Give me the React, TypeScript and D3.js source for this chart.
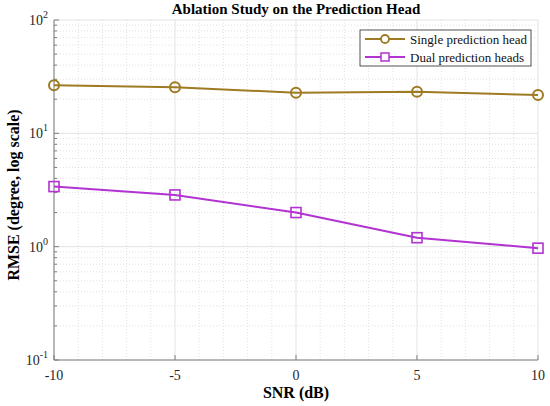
import * as d3 from 'd3';
import { useEffect, useRef } from 'react';

const snr = [-10, -5, 0, 5, 10];
const singleHead = [26.5, 25.5, 22.8, 23.3, 21.8];
const dualHeads = [3.39, 2.86, 2.0, 1.2, 0.97];
const xTicks = [-10, -5, 0, 5, 10];
const yExponents = [-1, 0, 1, 2];

const W = 550;
const H = 406;
const FONT = '"Liberation Serif", "Times New Roman", serif';
const GOLD = '#9e7b22';
const PURPLE = '#b232d2';

const App = () => {
    const ref = useRef<SVGSVGElement>(null);

    useEffect(() => {
        const margin = { top: 20, right: 12, bottom: 46, left: 54 };
        const width = W - margin.left - margin.right;
        const height = H - margin.top - margin.bottom;

        const root = d3.select(ref.current);
        root.selectAll("*").remove();

        const svg = root.append("g")
            .attr("transform", `translate(${margin.left},${margin.top})`);

        const x = d3.scaleLinear().domain([-10, 10]).range([0, width]);
        const y = d3.scaleLog().domain([0.1, 100]).range([height, 0]);

        // minor grid (dotted)
        const minorX = d3.range(-10, 11, 1).filter(v => v % 5 !== 0);
        const minorY: number[] = [];
        [-1, 0, 1].forEach(e => { for (let k = 2; k <= 9; k++) minorY.push(k * Math.pow(10, e)); });

        svg.append("g").selectAll("line").data(minorX).join("line")
            .attr("x1", d => x(d)).attr("x2", d => x(d))
            .attr("y1", 0).attr("y2", height)
            .attr("stroke", "#d9d9d9").attr("stroke-width", 0.8)
            .attr("stroke-dasharray", "1,2");
        svg.append("g").selectAll("line").data(minorY).join("line")
            .attr("x1", 0).attr("x2", width)
            .attr("y1", d => y(d)).attr("y2", d => y(d))
            .attr("stroke", "#d9d9d9").attr("stroke-width", 0.8)
            .attr("stroke-dasharray", "1,2");

        // major grid
        svg.append("g").selectAll("line").data(xTicks).join("line")
            .attr("x1", d => x(d)).attr("x2", d => x(d))
            .attr("y1", 0).attr("y2", height)
            .attr("stroke", "#e3e3e3").attr("stroke-width", 1);
        svg.append("g").selectAll("line").data(yExponents).join("line")
            .attr("x1", 0).attr("x2", width)
            .attr("y1", d => y(Math.pow(10, d))).attr("y2", d => y(Math.pow(10, d)))
            .attr("stroke", "#e3e3e3").attr("stroke-width", 1);

        // axes
        const axisColor = "#7f7f7f";
        svg.append("line").attr("x1", 0).attr("x2", width).attr("y1", height).attr("y2", height)
            .attr("stroke", axisColor).attr("stroke-width", 1);
        svg.append("line").attr("x1", 0).attr("x2", 0).attr("y1", 0).attr("y2", height)
            .attr("stroke", axisColor).attr("stroke-width", 1);

        // x ticks
        svg.append("g").selectAll("line").data(xTicks).join("line")
            .attr("x1", d => x(d)).attr("x2", d => x(d))
            .attr("y1", height).attr("y2", height - 5)
            .attr("stroke", axisColor);
        svg.append("g").selectAll("text").data(xTicks).join("text")
            .attr("x", d => x(d)).attr("y", height + 20)
            .attr("text-anchor", "middle")
            .style("font-family", FONT).style("font-size", "14px").attr("fill", "#262626")
            .text(d => d);

        // y ticks
        svg.append("g").selectAll("line").data(yExponents).join("line")
            .attr("x1", 0).attr("x2", 5)
            .attr("y1", d => y(Math.pow(10, d))).attr("y2", d => y(Math.pow(10, d)))
            .attr("stroke", axisColor);
        svg.append("g").selectAll("line").data(minorY).join("line")
            .attr("x1", 0).attr("x2", 3)
            .attr("y1", d => y(d)).attr("y2", d => y(d))
            .attr("stroke", axisColor);
        const yLab = svg.append("g").selectAll("text").data(yExponents).join("text")
            .attr("x", -6).attr("y", d => y(Math.pow(10, d)) + 5)
            .attr("text-anchor", "end")
            .style("font-family", FONT).style("font-size", "14px").attr("fill", "#262626");
        yLab.append("tspan").text("10");
        yLab.append("tspan").attr("dy", -7).style("font-size", "10px").text(d => d);

        // lines
        const series = [
            { name: "Single prediction head", values: singleHead, color: GOLD, marker: "circle" },
            { name: "Dual prediction heads", values: dualHeads, color: PURPLE, marker: "square" },
        ];
        const line = d3.line<number>().x((_, i) => x(snr[i])).y(d => y(d));

        series.forEach(s => {
            svg.append("path").datum(s.values)
                .attr("fill", "none").attr("stroke", s.color).attr("stroke-width", 2)
                .attr("d", line);
            const g = svg.append("g");
            s.values.forEach((v, i) => {
                if (s.marker === "circle") {
                    g.append("circle").attr("cx", x(snr[i])).attr("cy", y(v)).attr("r", 5)
                        .attr("fill", "none").attr("stroke", s.color).attr("stroke-width", 2);
                } else {
                    g.append("rect").attr("x", x(snr[i]) - 5).attr("y", y(v) - 5)
                        .attr("width", 10).attr("height", 10)
                        .attr("fill", "none").attr("stroke", s.color).attr("stroke-width", 1.6);
                }
            });
        });

        // title and labels
        svg.append("text").attr("x", width / 2).attr("y", -6).attr("text-anchor", "middle")
            .style("font-family", FONT).style("font-size", "15px").style("font-weight", "bold")
            .text("Ablation Study on the Prediction Head");
        svg.append("text").attr("x", width / 2).attr("y", height + 38).attr("text-anchor", "middle")
            .style("font-family", FONT).style("font-size", "16px").style("font-weight", "bold")
            .text("SNR (dB)");
        svg.append("text")
            .attr("transform", `translate(${-35},${height / 2 + 5}) rotate(-90)`)
            .attr("text-anchor", "middle")
            .style("font-family", FONT).style("font-size", "16px").style("font-weight", "bold")
            .text("RMSE (degree, log scale)");

        // legend
        const legend = svg.append("g").attr("transform", `translate(${306},${10})`);
        legend.append("rect").attr("x", 0).attr("y", 0).attr("width", 171).attr("height", 36)
            .attr("fill", "white").attr("stroke", "#262626").attr("stroke-width", 0.8);
        series.forEach((s, i) => {
            const cy = 9 + i * 18;
            legend.append("line").attr("x1", 5).attr("x2", 45).attr("y1", cy).attr("y2", cy)
                .attr("stroke", s.color).attr("stroke-width", 2);
            if (s.marker === "circle") {
                legend.append("circle").attr("cx", 25).attr("cy", cy).attr("r", 4)
                    .attr("fill", "white").attr("stroke", s.color).attr("stroke-width", 1.8);
            } else {
                legend.append("rect").attr("x", 21).attr("y", cy - 4).attr("width", 8).attr("height", 8)
                    .attr("fill", "white").attr("stroke", s.color).attr("stroke-width", 1.5);
            }
            legend.append("text").attr("x", 50).attr("y", cy + 4.5)
                .style("font-family", FONT).style("font-size", "13px").attr("fill", "#111")
                .text(s.name);
        });
    }, []);

    return (
        <svg ref={ref} width={W} height={H}
            style={{ position: 'absolute', left: 0, top: 0, background: 'white' }} />
    );
};

export default App;
